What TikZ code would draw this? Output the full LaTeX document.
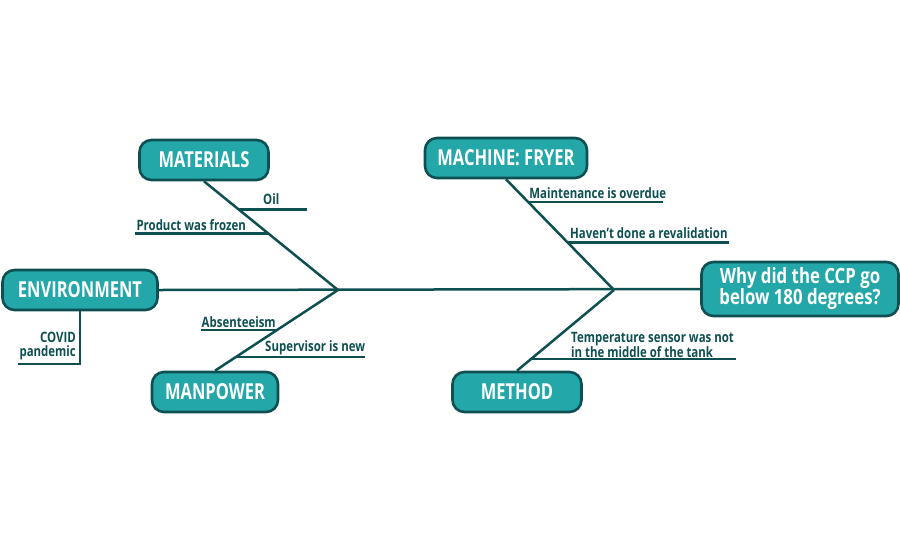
\documentclass[tikz,border=0pt]{standalone}
\usepackage{fontspec}
\setmainfont[FakeStretch=0.8]{Open Sans}
\newfontfamily\boxfont[FakeStretch=0.75]{Open Sans}
\usetikzlibrary{calc,positioning}
\definecolor{fishfill}{HTML}{23A7A8}
\definecolor{fishdark}{HTML}{0E4F51}
\tikzset{
    cause/.style = {
        draw = fishdark,
        fill = fishfill,
        line width = 2.6pt,
        rounded corners = 12pt,
        text = white,
        font = \boxfont\bfseries\fontsize{22}{24}\selectfont,
        minimum height = 40pt,
        inner sep = 0pt,
        },
    bone/.style = {
        draw = fishdark,
        line width = 2.5pt,
        },
    twig/.style = {
        draw = fishdark,
        line width = 2.2pt,
        },
    reason/.style = {
        text = fishdark,
        font = \bfseries\fontsize{14.3}{13.5}\selectfont,
        inner sep = 1pt,
        },
}
\begin{document}
\begin{tikzpicture}[x=1pt,y=-1pt]
            \useasboundingbox (0,0) rectangle (900,550);
            \node[cause, minimum width=129pt] (mat) at (204,160) {MATERIALS};
            \node[cause, minimum width=155pt] (env) at (80,290) {ENVIRONMENT};
            \node[cause, minimum width=126pt] (man) at (215,392) {MANPOWER};
            \node[cause, minimum width=162pt] (mach) at (506,158) {MACHINE: FRYER};
            \node[cause, minimum width=129pt] (meth) at (517,392) {METHOD};
            \node[cause, minimum width=197pt, minimum height=54pt, align=center,
                  font=\bfseries\fontsize{21}{21}\selectfont] (q) at (800,289)
                  {Why did the CCP go\\below 180 degrees?};

            \coordinate (jl) at (338,290);
            \coordinate (jr) at (614,290);

            % spine and bones
            \draw[bone] (env.east) -- (q.west);
            \draw[bone] (mat.south) -- (jl);
            \draw[bone] (man.north) -- (jl);
            \draw[bone] (mach.south) -- (jr);
            \draw[bone] (meth.north) -- (jr);

            % materials
            \coordinate (m1) at ($(mat.south)!0.26!(jl)$);
            \coordinate (m2) at ($(mat.south)!0.48!(jl)$);
            \draw[twig] (m1) -- ++(68,0) coordinate (m1e);
            \draw[twig] (m2) -- ++(-133,0) coordinate (m2e);
            \node[reason, anchor=south west] (oil) at (262,206) {Oil};
            \node[reason, anchor=south west] (frozen) at (m2e) [yshift=2pt] {Product was frozen};

            % environment
            \draw[twig] (env.south) |- ++(-62,53) coordinate (e1e);
            \node[reason, anchor=south east, align=right] (covid) at (77,361) {COVID\\pandemic};

            % manpower
            \coordinate (p1) at ($(man.north)!0.5!(jl)$);
            \coordinate (p2) at ($(man.north)!0.17!(jl)$);
            \draw[twig] (p1) -- ++(-76,0) coordinate (p1e);
            \draw[twig] (p2) -- ++(129,0) coordinate (p2e);
            \node[reason, anchor=south west] (absent) at (p1e) [yshift=2pt] {Absenteeism};
            \node[reason, anchor=south west] (superv) at (264,356) {Supervisor is new};

            % machine
            \coordinate (f1) at ($(mach.south)!0.205!(jr)$);
            \coordinate (f2) at ($(mach.south)!0.571!(jr)$);
            \draw[twig] (f1) -- ++(135,0) coordinate (f1e);
            \draw[twig] (f2) -- ++(161,0) coordinate (f2e);
            \node[reason, anchor=south west] (maint) at (f1) [yshift=2pt] {Maintenance is overdue};
            \node[reason, anchor=south west] (reval) at (569,240) {Haven\char"0027 t done a revalidation};

            % method
            \coordinate (t1) at ($(meth.north)!0.145!(jr)$);
            \draw[twig] (t1) -- ++(205,0) coordinate (t1e);
            \node[reason, anchor=south west, align=left] (sensor) at (570,359)
                {Temperature sensor was not\\in the middle of the tank};
        \end{tikzpicture}
\end{document}
